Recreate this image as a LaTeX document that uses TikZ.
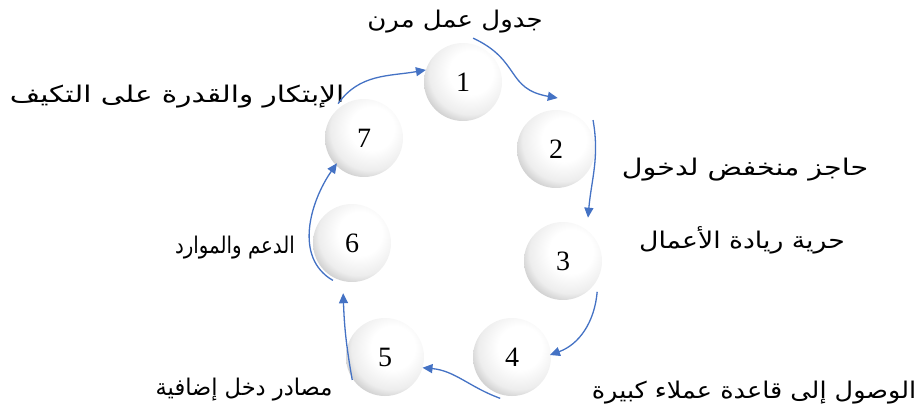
\documentclass[tikz,border=0pt]{standalone}
\usepackage{fontspec}
\setmainfont{Liberation Serif}
\newfontfamily\arabicfont[Script=Arabic]{DejaVu Sans}
\usetikzlibrary{arrows.meta,calc}
\TeXXeTstate=1
\definecolor{arrowblue}{RGB}{68,114,196}
\pgfdeclareradialshading{sph}{\pgfpoint{6bp}{7bp}}{color(0bp)=(white); color(14bp)=(white); color(26bp)=(black!7); color(36bp)=(black!28); color(44bp)=(black!42); color(100bp)=(black!42)}
\begin{document}
\begin{tikzpicture}[x=1pt,y=1pt,
  sphere/.style={circle, minimum size=78pt, inner sep=0pt, shading=sph, font=\fontsize{28}{28}\selectfont},
  lbl/.style={font=\arabicfont\fontsize{23}{26}\selectfont, inner sep=0pt},
  flow/.style={draw=arrowblue, line width=1.3pt, -{Triangle[length=10pt,width=9pt]}}]
\useasboundingbox (0,0) rectangle (920,415);
% spheres
\node[sphere] (n1) at (463,333) {1};
\node[sphere] (n2) at (556,266) {2};
\node[sphere] (n3) at (563,154) {3};
\node[sphere] (n4) at (512,58) {4};
\node[sphere] (n5) at (385,58) {5};
\node[sphere] (n6) at (352,172) {6};
\node[sphere] (n7) at (364,277) {7};
% labels
\node[lbl] (l1) at (455,393) {\scalebox{1.13}[1]{\beginR جدول عمل مرن\endR}};
\node[lbl] (l2) at (745,245) {\scalebox{1.24}[1]{\beginR حاجز منخفض لدخول\endR}};
\node[lbl] (l3) at (742,175) {\scalebox{1.16}[1]{\beginR حرية ريادة الأعمال\endR}};
\node[lbl] (l4) at (754,22) {\scalebox{1.11}[1]{\beginR الوصول إلى قاعدة عملاء كبيرة\endR}};
\node[lbl] (l5) at (244,25) {\scalebox{0.98}[1]{\beginR مصادر دخل إضافية\endR}};
\node[lbl] (l6) at (235,167) {\scalebox{0.86}[1]{\beginR الدعم والموارد\endR}};
\node[lbl] (l7) at (177,318) {\scalebox{1.28}[1]{\beginR الإبتكار والقدرة على التكيف\endR}};
% connectors
\draw[flow] ($(n7)+(127:43)$) to[out=55,in=190] ($(n1)+(162:39)$);
\draw[flow] ($(n1)+(77:45)$) to[out=-25,in=170,looseness=1.3] ($(n2)+(88:51)$);
\draw[flow] ($(n2)+(38:47)$) to[out=-80,in=85] ($(n3)+(60:50)$);
\draw[flow] ($(n3)+(-42:46)$) to[out=-95,in=20] ($(n4)+(3:38)$);
\draw[flow] ($(n4)+(254:43)$) to[out=160,in=-5] ($(n5)+(-16:39)$);
\draw[flow] ($(n5)+(215:40)$) to[out=100,in=-88] ($(n6)+(260:51)$);
\draw[flow] ($(n6)+(243:42)$) to[out=150,in=-125] ($(n7)+(223:37)$);
\end{tikzpicture}
\end{document}
